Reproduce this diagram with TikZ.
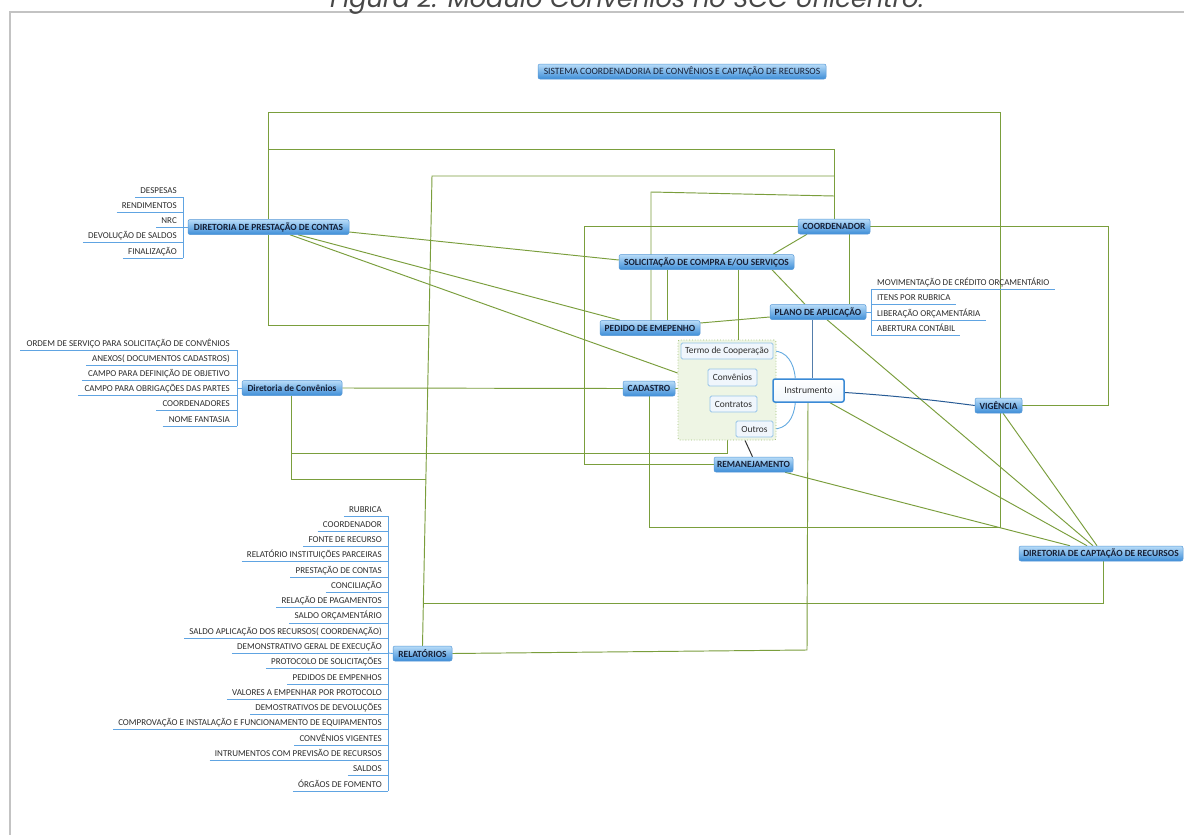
\documentclass[tikz,border=0pt]{standalone}
\usepackage{fontspec}
\setmainfont{Carlito}
\newfontfamily\capfont{Poppins}
\usetikzlibrary{calc}
\pgfdeclarelayer{bg}
\pgfsetlayers{bg,main}
\definecolor{lgreen}{RGB}{122,158,60}
\definecolor{tTop}{RGB}{184,220,248}
\definecolor{tBot}{RGB}{62,142,216}
\definecolor{tBorder}{RGB}{86,152,214}
\definecolor{tText}{RGB}{22,32,55}
\definecolor{ulc}{RGB}{96,164,226}
\definecolor{chBorder}{RGB}{150,195,232}
\definecolor{chFill}{RGB}{240,246,252}
\definecolor{instBorder}{RGB}{58,138,214}
\definecolor{curveC}{RGB}{100,170,225}
\definecolor{darkBlue}{RGB}{40,92,150}
\definecolor{grpFill}{RGB}{238,245,228}
\definecolor{grpBorder}{RGB}{160,192,118}
\definecolor{frameC}{RGB}{195,195,195}
\definecolor{subText}{RGB}{45,45,45}
\tikzset{
  topic/.style={rounded corners=2pt, top color=tTop, bottom color=tBot, draw=tBorder,
    line width=0.5pt, inner sep=0pt, minimum height=15pt, text=tText,
    font=\fontsize{9.4}{10}\selectfont\bfseries},
  titlebox/.style={topic, font=\fontsize{9.6}{10}\selectfont},
  sub/.style={inner sep=0pt, text=subText, font=\fontsize{9}{10}\selectfont},
  ul/.style={draw=ulc, line width=0.9pt},
  gl/.style={draw=lgreen, line width=0.95pt},
  child/.style={draw=chBorder, fill=chFill, line width=0.8pt, rounded corners=1.5pt,
    inner sep=0pt, minimum height=16pt, text=subText, font=\fontsize{9.4}{10}\selectfont},
  inst/.style={draw=instBorder, top color=white, bottom color=chFill, line width=1.5pt,
    rounded corners=2pt, inner sep=0pt, text=subText, font=\fontsize{9.6}{10}\selectfont},
  grp/.style={draw=grpBorder, fill=grpFill, dotted, line width=0.8pt, rounded corners=2pt},
  cv/.style={draw=curveC, line width=0.9pt},
}
\begin{document}
\begin{tikzpicture}[x=1pt,y=-1pt]
\useasboundingbox (0,0) rectangle (1184,835);
\begin{pgfonlayer}{bg}
\fill[white] (0,0) rectangle (1184,835);
\end{pgfonlayer}
% frame and caption
\draw[frameC, line width=1.2pt] (10,835) -- (10,12) -- (1184,12);
\node[anchor=base, font=\capfont\itshape\fontsize{25.6}{26}\selectfont, text=black!72] (cap) at (627,8) {Figura 2: Módulo Convênios no SCC Unicentro.};

% title
\node[titlebox, minimum width=288pt] (title) at (682,71.5) {SISTEMA COORDENADORIA DE CONVÊNIOS E CAPTAÇÃO DE RECURSOS};

% group box
\node[grp, minimum width=98pt, minimum height=100pt] (grp) at (727,390) {};

% topics
\node[topic, minimum width=161pt] (dpc) at (268.5,227) {DIRETORIA DE PRESTAÇÃO DE CONTAS};
\node[topic, minimum width=100pt] (dc) at (292,388) {Diretoria de Convênios};
\node[topic, minimum width=72pt] (coord) at (834,226.5) {COORDENADOR};
\node[topic, minimum width=175pt] (sol) at (706.5,262) {SOLICITAÇÃO DE COMPRA E/OU SERVIÇOS};
\node[topic, minimum width=96pt] (plano) at (818,312) {PLANO DE APLICAÇÃO};
\node[topic, minimum width=100pt] (ped) at (650,328) {PEDIDO DE EMEPENHO};
\node[topic, minimum width=52pt] (cad) at (649,388.5) {CADASTRO};
\node[topic, minimum width=79pt] (rem) at (753.5,464.5) {REMANEJAMENTO};
\node[topic, minimum width=47pt] (vig) at (998.5,405.5) {VIGÊNCIA};
\node[topic, minimum width=164pt] (dcr) at (1101,553.5) {DIRETORIA DE CAPTAÇÃO DE RECURSOS};
\node[topic, minimum width=59pt] (rel) at (422.5,653.5) {RELATÓRIOS};

% instrument
\node[child, minimum width=92pt] (termo) at (727,351) {Termo de Cooperação};
\node[child, minimum width=49pt, minimum height=17pt] (conv) at (732.5,377.5) {Convênios};
\node[child, minimum width=47pt] (contr) at (733.5,404) {Contratos};
\node[child, minimum width=37pt] (outros) at (754.5,429) {Outros};
\node[inst, minimum width=71pt, minimum height=23pt] (instr) at (808.5,390.5) {Instrumento};

% sub-lists: prestação de contas
\foreach \t/\yy [count=\i] in {DESPESAS/190, RENDIMENTOS/205.25, NRC/220.5, DEVOLUÇÃO DE SALDOS/235.75, FINALIZAÇÃO/251}{
  \node[sub, anchor=base east] (p\i) at (177,{\yy+3}) {\t};
  \draw[ul] ($(p\i.base west)+(-5,4)$) -- (183,{\yy+7});
}
\draw[ul] (183,197) -- (183,258);
\draw[ul] (183,227) -- (dpc.west);

% sub-lists: convênios
\foreach \t/\yy [count=\i] in {ORDEM DE SERVIÇO PARA SOLICITAÇÃO DE CONVÊNIOS/343, ANEXOS( DOCUMENTOS CADASTROS)/358.2, CAMPO PARA DEFINIÇÃO DE OBJETIVO/373.4, CAMPO PARA OBRIGAÇÕES DAS PARTES/388.6, COORDENADORES/403.8, NOME FANTASIA/419}{
  \node[sub, anchor=base east] (c\i) at (230,{\yy+3}) {\t};
  \draw[ul] ($(c\i.base west)+(-6,4)$) -- (237,{\yy+7});
}
\draw[ul] (237,350) -- (237,426);
\draw[ul] (237,388) -- (dc.west);

% sub-lists: plano de aplicação
\foreach \t/\yy [count=\i] in {MOVIMENTAÇÃO DE CRÉDITO ORÇAMENTÁRIO/282, ITENS POR RUBRICA/297.5, LIBERAÇÃO ORÇAMENTÁRIA/313, ABERTURA CONTÁBIL/328}{
  \node[sub, anchor=base west] (q\i) at (877,{\yy+3}) {\t};
  \draw[ul] (871,{\yy+7}) -- ($(q\i.base east)+(5,4)$);
}
\draw[ul] (871,289) -- (871,335);
\draw[ul] (plano.east) -- (871,312);

% sub-lists: relatórios
\foreach \t [count=\i] in {RUBRICA, COORDENADOR, FONTE DE RECURSO, RELATÓRIO INSTITUIÇÕES PARCEIRAS, PRESTAÇÃO DE CONTAS, CONCILIAÇÃO, RELAÇÃO DE PAGAMENTOS, SALDO ORÇAMENTÁRIO, SALDO APLICAÇÃO DOS RECURSOS( COORDENAÇÃO), DEMONSTRATIVO GERAL DE EXECUÇÃO, PROTOCOLO DE SOLICITAÇÕES, PEDIDOS DE EMPENHOS, VALORES A EMPENHAR POR PROTOCOLO, DEMOSTRATIVOS DE DEVOLUÇÕES, COMPROVAÇÃO E INSTALAÇÃO E FUNCIONAMENTO DE EQUIPAMENTOS, CONVÊNIOS VIGENTES, INTRUMENTOS COM PREVISÃO DE RECURSOS, SALDOS, ÓRGÃOS DE FOMENTO}{
  \pgfmathsetmacro\yy{509+(\i-1)*15.28}
  \node[sub, anchor=base east] (r\i) at (382,{\yy+3}) {\t};
  \draw[ul] ($(r\i.base west)+(-5,4)$) -- (388,{\yy+7});
}
\draw[ul] (388,516) -- (388,791);
\draw[ul] (388,653) -- (rel.west);

% connectors
\begin{pgfonlayer}{bg}
\coordinate (jA) at (429,325);
\coordinate (jB) at (426,479);
\coordinate (jC) at (424,603);
% long loops
\draw[gl] (cad.south) -- (649,527) -- (1000,527) -- (1000,112) -- (268.5,112) -- (dpc.north);
\draw[gl] (dpc.north) -- (268.5,149) -- (834,149) -- (coord.north);
\draw[gl] (rel.north) -- (432,176) -- (834,176);
\draw[gl] ($(ped.north)+(1,0)$) -- (651,192) -- (834,196);
\draw[gl] (dpc.south) -- (268.5,325) -- (jA);
\draw[gl] ($(dc.south)+(-1,0)$) -- (291,479) -- (jB);
\draw[gl] ($(dc.south)+(-1,0)$) -- (291,453) -- (727,453) -- (grp.south);
\draw[gl] (dc.east) -- (cad.west);
\draw[gl] ($(sol.south)+(-39.5,0)$) -- ($(ped.north)+(17,0)$);
\draw[gl] ($(sol.south)+(31.5,0)$) -- ($(grp.north)+(11,0)$);
\draw[gl] ($(sol.south)+(65.5,0)$) -- ($(plano.north)+(-13,0)$);
\draw[gl] ($(ped.east)+(0,-5)$) -- ($(plano.west)+(0,5)$);
\draw[gl] ($(coord.south)+(15,0)$) -- ($(plano.north)+(31,0)$);
\draw[gl] (coord.east) -- (1108,226.5) -- (1108,405.5) -- (vig.east);
\draw[gl] (coord.west) -- (584,226.5) -- (584,464.5) -- (rem.west);
\draw[gl] ($(coord.south)+(-27,0)$) -- ($(sol.north)+(66.5,0)$);
\draw[gl] ($(dpc.east)+(0,5)$) -- ($(sol.west)+(0,-2)$);
\draw[gl] ($(dpc.south)+(29.5,0)$) -- ($(ped.north)+(-30,0)$);
\draw[gl] ($(dpc.south)+(21.5,0)$) -- ($(grp.west)+(0,-17)$);
\draw[gl] ($(vig.south)+(4.5,0)$) -- ($(dcr.north)+(-4,0)$);
\draw[gl] ($(plano.south)+(9,0)$) -- ($(dcr.north)+(-8,0)$);
\draw[gl] ($(instr.south)+(21.5,0)$) -- ($(dcr.north)+(-14,0)$);
\draw[gl] ($(rem.south)+(31.5,0)$) -- ($(dcr.north)+(-31,0)$);
\draw[gl] ($(dcr.south)+(2,0)$) -- (1103,603) -- (jC);
\draw[gl] ($(instr.south)+(-0.5,0)$) -- (807,650) -- (rel.east);
\draw[gl] (cad.east) -- (grp.west |- cad.east);
% instrument links
\draw[draw=darkBlue!80, line width=1pt] (plano.south -| 812,0) -- (instr.north -| 812,0);
\draw[draw=darkBlue, line width=1pt] ($(instr.east)+(0,2)$) .. controls (900,396) and (940,401) .. (vig.west);
\draw[line width=1pt, black!80] ($(grp.south)+(18,0)$) -- ($(rem.north)+(-1,0)$);
\draw[cv] ($(instr.north west)+(23,0)$) .. controls (794,362) and (786,351) .. (termo.east);
\draw[cv] ($(instr.west)+(0,-4)$) .. controls (766,383) and (764,377.5) .. (conv.east);
\draw[cv] ($(instr.west)+(0,4)$) .. controls (766,398) and (764,404) .. (contr.east);
\draw[cv] ($(instr.south west)+(23,0)$) .. controls (794,419) and (786,429) .. (outros.east);
\end{pgfonlayer}
\end{tikzpicture}
\end{document}
